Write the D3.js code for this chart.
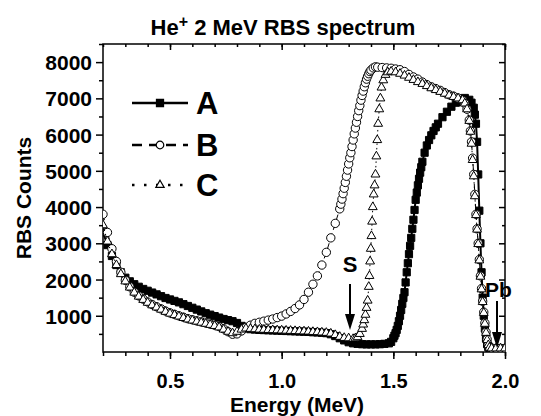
<!DOCTYPE html>
<html>
<head>
<meta charset="utf-8">
<title>He+ 2 MeV RBS spectrum</title>
<style>
  body { margin: 0; background: white; }
  text { font-family: "Liberation Sans", Arial, sans-serif; font-weight: bold; fill: black; }
</style>
</head>
<body>
<div id="chart"></div>
<script src="https://d3js.org/d3.v7.min.js"></script>
<script>
// sample A (filled squares, solid line)
var energyA = [
  0.20,0.22,0.24,0.26,0.28,0.30,0.32,0.34,0.36,0.38,
  0.40,0.42,0.44,0.46,0.48,0.50,0.52,0.54,0.56,0.58,
  0.60,0.62,0.64,0.66,0.68,0.70,0.72,0.74,0.76,0.78,
  0.80,0.82,0.84,0.86,0.88,0.90,0.92,0.94,0.96,0.98,
  1.00,1.02,1.04,1.06,1.08,1.10,1.12,1.14,1.16,1.18,
  1.20,1.22,1.24,1.26,1.28,1.30,1.32,1.34,1.36,1.38,
  1.40,1.42,1.44,1.46,1.48,1.49,1.50,1.505,1.51,1.515,
  1.52,1.525,1.53,1.535,1.54,1.545,1.55,1.555,1.56,1.565,
  1.57,1.575,1.58,1.585,1.59,1.595,1.60,1.605,1.61,1.615,
  1.62,1.625,1.63,1.64,1.65,1.66,1.67,1.68,1.69,1.70,
  1.72,1.74,1.76,1.78,1.80,1.82,1.84,1.85,1.86,1.865,
  1.87,1.875,1.88,1.885,1.89,1.895,1.90,1.905,1.91,1.915,
  1.92,1.925,1.93,1.94,1.96,1.98,2.00];
var countsA = [
  3300,2950,2650,2400,2200,2050,1950,1870,1800,1740,
  1690,1640,1590,1540,1490,1450,1410,1370,1320,1270,
  1220,1170,1120,1070,1030,990,950,910,880,850,
  800,720,660,630,620,610,605,600,595,590,
  585,580,575,570,565,560,555,545,540,530,
  520,490,440,380,320,270,240,225,215,210,
  210,210,215,225,240,280,380,450,520,610,
  720,850,1000,1160,1330,1490,1650,1920,2200,2450,
  2700,2930,3150,3400,3650,3920,4200,4400,4600,4780,
  4950,5100,5250,5500,5700,5850,5980,6100,6200,6300,
  6480,6630,6770,6880,6980,7010,6960,6880,6740,6550,
  6300,5800,4900,3900,3000,2200,1500,1000,650,380,
  220,140,110,100,100,100,100];

// sample B (open circles, dashed line)
var energyB = [
  0.20,0.22,0.24,0.26,0.28,0.30,0.32,0.34,0.36,0.38,
  0.40,0.42,0.44,0.46,0.48,0.50,0.52,0.54,0.56,0.58,
  0.60,0.62,0.64,0.66,0.68,0.70,0.72,0.74,0.76,0.78,
  0.80,0.82,0.84,0.86,0.88,0.90,0.92,0.94,0.96,0.98,
  1.00,1.02,1.04,1.06,1.08,1.10,1.12,1.14,1.16,1.18,
  1.20,1.22,1.24,
  1.26,1.265,1.27,1.275,1.28,1.285,1.29,1.295,1.30,1.305,
  1.31,1.315,1.32,1.325,1.33,1.335,1.34,1.345,1.35,1.355,
  1.36,1.365,1.37,1.375,1.38,1.385,1.39,1.395,1.40,
  1.41,1.42,1.43,1.45,1.47,1.49,1.51,1.53,1.55,1.57,
  1.59,1.61,1.63,1.65,1.67,1.69,1.71,1.73,1.75,1.77,
  1.79,1.81,1.82,1.83,1.84,1.845,1.85,1.855,1.86,1.865,
  1.87,1.875,1.88,1.885,1.89,1.895,1.90,1.905,1.91,1.915,
  1.92,1.925,1.93,1.94,1.96,1.98,2.00];
var countsB = [
  3800,3300,2850,2500,2200,1980,1800,1650,1550,1460,
  1380,1310,1250,1190,1130,1080,1040,1000,960,920,
  890,860,830,800,770,740,700,640,560,490,
  500,580,680,740,790,820,850,880,910,950,
  990,1050,1120,1200,1300,1450,1650,1870,2100,2400,
  2750,3150,3550,
  3950,4080,4220,4370,4520,4680,4850,5020,5190,5360,
  5500,5670,5850,6020,6180,6340,6500,6660,6800,6950,
  7080,7200,7320,7430,7530,7610,7680,7740,7780,
  7840,7870,7860,7850,7840,7830,7810,7790,7740,7660,
  7590,7530,7450,7380,7320,7270,7220,7160,7100,7060,
  7010,6950,6860,6700,6400,6100,5800,5350,4900,4350,
  3800,3400,3000,2550,2100,1750,1400,1100,800,550,
  350,200,130,110,100,100,100];

// sample C (open triangles, dotted line)
var energyC = [
  0.20,0.22,0.24,0.26,0.28,0.30,0.32,0.34,0.36,0.38,
  0.40,0.42,0.44,0.46,0.48,0.50,0.52,0.54,0.56,0.58,
  0.60,0.62,0.64,0.66,0.68,0.70,0.72,0.74,0.76,0.78,
  0.80,0.82,0.84,0.86,0.88,0.90,0.92,0.94,0.96,0.98,
  1.00,1.02,1.04,1.06,1.08,1.10,1.12,1.14,1.16,1.18,
  1.20,1.22,1.24,1.26,1.28,1.30,1.32,
  1.33,1.34,1.35,1.36,1.365,1.37,1.375,1.38,1.385,1.39,
  1.393,1.396,1.399,1.402,1.405,1.408,1.412,1.416,1.42,1.424,
  1.428,1.432,1.437,1.442,1.447,1.455,1.465,1.475,1.49,
  1.51,1.53,1.55,1.57,1.59,1.61,1.63,1.65,1.67,1.69,
  1.71,1.73,1.75,1.77,1.79,1.81,
  1.82,1.83,1.84,1.845,1.85,1.855,1.86,1.865,1.87,1.875,
  1.88,1.885,1.89,1.895,1.90,1.905,1.91,1.915,1.92,1.925,
  1.93,1.94,1.96,1.98,2.00];
var countsC = [
  3500,3050,2700,2400,2150,1950,1780,1640,1530,1440,
  1360,1290,1230,1170,1110,1060,1020,980,940,900,
  870,840,810,780,750,720,680,620,560,520,
  560,620,650,640,630,620,615,610,605,600,
  595,590,585,580,575,570,565,555,550,540,
  530,510,470,420,390,380,360,
  380,410,500,640,760,880,1030,1220,1420,1800,
  2100,2500,2850,3200,3600,4000,4350,4600,4900,5400,
  5850,6300,6700,7000,7300,7500,7650,7720,7740,
  7720,7680,7630,7570,7510,7450,7400,7340,7280,7230,
  7180,7130,7080,7040,7000,6950,
  6860,6700,6380,6080,5750,5300,4850,4300,3780,3380,
  2980,2530,2080,1730,1380,1080,780,530,330,190,
  120,100,100,100,100];

var xTicks = [0.5, 1.0, 1.5, 2.0];
var xMinorTicks = [0.2,0.3,0.4,0.5,0.6,0.7,0.8,0.9,1.0,1.1,1.2,1.3,1.4,1.5,1.6,1.7,1.8,1.9,2.0];
var yTicks = [1000, 2000, 3000, 4000, 5000, 6000, 7000, 8000];
var yMinorTicks = [500,1500,2500,3500,4500,5500,6500,7500,8500];
var seriesNames = ["A", "B", "C"];

var width = 541, height = 416;
var svg = d3.select("#chart").append("svg")
  .attr("width", width)
  .attr("height", height);

var x = d3.scaleLinear().domain([0.2, 2.0]).range([103, 505]);
var y = d3.scaleLinear().domain([0, 8500]).range([352, 44]);

svg.append("defs").append("clipPath").attr("id", "plot")
  .append("rect").attr("x", 103).attr("y", 44).attr("width", 402).attr("height", 308);

function styleAxis(g) {
  g.select(".domain").remove();
  g.selectAll("line").attr("stroke", "black").attr("stroke-width", 1.5);
}

// bottom axis
svg.append("g").attr("transform", "translate(0,352)")
  .call(d3.axisBottom(x).tickValues(xMinorTicks).tickSize(4).tickFormat(""))
  .call(styleAxis);
var xAxis = svg.append("g").attr("transform", "translate(0,352)")
  .call(d3.axisBottom(x).tickValues(xTicks).tickSize(7).tickFormat(d3.format(".1f")))
  .call(styleAxis);
xAxis.selectAll("text").attr("y", 36).attr("dy", 0)
  .style("font-size", "20px").style("font-family", "'Liberation Sans', Arial, sans-serif")
  .style("font-weight", "bold");

// left axis
svg.append("g").attr("transform", "translate(103,0)")
  .call(d3.axisLeft(y).tickValues(yMinorTicks).tickSize(4).tickFormat(""))
  .call(styleAxis);
var yAxis = svg.append("g").attr("transform", "translate(103,0)")
  .call(d3.axisLeft(y).tickValues(yTicks).tickSize(7).tickFormat(d3.format("d")))
  .call(styleAxis);
yAxis.selectAll("text").attr("x", -11).attr("dy", "0.36em")
  .style("font-size", "21px").style("font-family", "'Liberation Sans', Arial, sans-serif")
  .style("font-weight", "bold");

// top and right axes, ticks inward
svg.append("g").attr("transform", "translate(0,44)")
  .call(d3.axisTop(x).tickValues(xMinorTicks).tickSize(-3).tickFormat(""))
  .call(styleAxis);
svg.append("g").attr("transform", "translate(0,44)")
  .call(d3.axisTop(x).tickValues(xTicks).tickSize(-6).tickFormat(""))
  .call(styleAxis);
svg.append("g").attr("transform", "translate(505,0)")
  .call(d3.axisRight(y).tickValues(yMinorTicks).tickSize(-3).tickFormat(""))
  .call(styleAxis);
svg.append("g").attr("transform", "translate(505,0)")
  .call(d3.axisRight(y).tickValues(yTicks).tickSize(-6).tickFormat(""))
  .call(styleAxis);

svg.append("rect")
  .attr("x", 103).attr("y", 44).attr("width", 402).attr("height", 308)
  .attr("fill", "none").attr("stroke", "black").attr("stroke-width", 1.5);

// data
var series = [
  { name: "A", e: energyA, c: countsA, shape: d3.symbolSquare, size: 52, fill: "black", dash: null, lw: 2 },
  { name: "B", e: energyB, c: countsB, shape: d3.symbolCircle, size: 55, fill: "white", dash: "6,4", lw: 1 },
  { name: "C", e: energyC, c: countsC, shape: d3.symbolTriangle, size: 34, fill: "white", dash: "1.5,3", lw: 1 }
];

var plot = svg.append("g").attr("clip-path", "url(#plot)");
var line = d3.line().x(function(d) { return x(d[0]); }).y(function(d) { return y(d[1]); });

series.forEach(function(s) {
  var pts = s.e.map(function(e, i) { return [e, s.c[i]]; });
  var g = plot.append("g");
  g.append("path")
    .datum(pts)
    .attr("d", line)
    .attr("fill", "none")
    .attr("stroke", "black")
    .attr("stroke-width", s.lw)
    .attr("stroke-dasharray", s.dash);
  g.selectAll("path.pt")
    .data(pts)
    .enter()
    .append("path")
    .attr("class", "pt")
    .attr("transform", function(d) { return "translate(" + x(d[0]) + "," + y(d[1]) + ")"; })
    .attr("d", d3.symbol().type(s.shape).size(s.size))
    .attr("fill", s.fill)
    .attr("stroke", "black")
    .attr("stroke-width", 1);
});

// legend
var legendY = [103, 145, 185];
var legendDash = [null, "10,7", "2.5,9.5"];
var legendShape = [d3.symbolSquare, d3.symbolCircle, d3.symbolTriangle];
var legendSize = [50, 45, 30];
var legendFill = ["black", "white", "white"];
seriesNames.forEach(function(name, i) {
  var g = svg.append("g");
  g.append("line")
    .attr("x1", 132).attr("x2", 188)
    .attr("y1", legendY[i]).attr("y2", legendY[i])
    .attr("stroke", "black").attr("stroke-width", 2.5)
    .attr("stroke-dasharray", legendDash[i]);
  g.append("path")
    .attr("transform", "translate(160," + legendY[i] + ")")
    .attr("d", d3.symbol().type(legendShape[i]).size(legendSize[i]))
    .attr("fill", legendFill[i])
    .attr("stroke", "black").attr("stroke-width", 1.2);
  g.append("text")
    .attr("x", 196).attr("y", legendY[i] + 11)
    .style("font-size", "31px")
    .text(name);
});

// S and Pb markers
function arrow(xv, y1, y2) {
  svg.append("line").attr("x1", xv).attr("x2", xv).attr("y1", y1).attr("y2", y2 - 12)
    .attr("stroke", "black").attr("stroke-width", 2);
  svg.append("path")
    .attr("d", "M" + (xv - 5) + "," + (y2 - 16) + "L" + (xv + 5) + "," + (y2 - 16) + "L" + xv + "," + y2 + "Z")
    .attr("fill", "black");
}
svg.append("text").attr("x", 350).attr("y", 272).attr("text-anchor", "middle")
  .style("font-size", "22px").text("S");
arrow(350, 284, 330);
svg.append("text").attr("x", 485).attr("y", 297)
  .style("font-size", "21px").text("Pb");
arrow(497, 301, 348);

// title and axis titles
var title = svg.append("text").attr("x", 283).attr("y", 35).attr("text-anchor", "middle")
  .style("font-size", "22px");
title.append("tspan").text("He");
title.append("tspan").attr("dy", -8).style("font-size", "16px").text("+");
title.append("tspan").attr("dy", 8).text(" 2 MeV RBS spectrum");

svg.append("text").attr("x", 297).attr("y", 412).attr("text-anchor", "middle")
  .style("font-size", "21px").text("Energy (MeV)");
svg.append("text")
  .attr("transform", "translate(31,198) rotate(-90)")
  .attr("text-anchor", "middle")
  .style("font-size", "21px").text("RBS Counts");
</script>
</body>
</html>
